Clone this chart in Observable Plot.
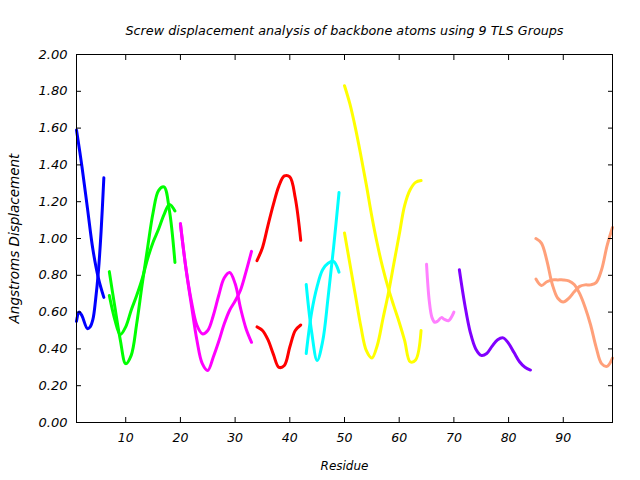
<!DOCTYPE html>
<html>
<head>
<meta charset="utf-8">
<script src="https://cdn.jsdelivr.net/npm/d3@7"></script>
<script src="https://cdn.jsdelivr.net/npm/@observablehq/plot@0.6"></script>
<style>
  html, body { margin: 0; padding: 0; background: #ffffff; }
</style>
</head>
<body>
<script>
// ---- Data: [residue, displacement (Å)] ----
const blueA    = [[1,1.59],[2,1.39],[3,1.165],[4,0.94],[5,0.785],[6,0.68]];
const blueB    = [[1,0.55],[1.5,0.60],[2,0.58],[3,0.51],[3.5,0.52],[4,0.56],[4.5,0.67],[5,0.82],[5.5,1.04],[6,1.33]];
const greenA   = [[7,0.82],[8,0.63],[9,0.45],[10,0.32],[11,0.365],[12,0.536],[13,0.75],[14,0.95],[15,1.14],[16,1.26],[17,1.28],[18,1.15],[19,0.87]];
const greenB   = [[7,0.69],[8,0.56],[9,0.478],[10,0.52],[11,0.61],[12,0.69],[13,0.78],[14,0.89],[15,0.98],[16,1.05],[17,1.13],[18,1.185],[19,1.15]];
const magentaA = [[20,1.08],[21,0.84],[22,0.64],[23,0.45],[24,0.32],[25,0.283],[26,0.355],[27,0.44],[28,0.535],[29,0.61],[30,0.66],[31,0.72],[32,0.82],[33,0.93]];
const magentaB = [[20,1.08],[21,0.84],[22,0.66],[23,0.53],[24,0.482],[25,0.50],[26,0.58],[27,0.69],[28,0.785],[29,0.815],[30,0.755],[31,0.62],[32,0.51],[33,0.436]];
const redA     = [[34,0.88],[35,0.95],[36,1.07],[37,1.185],[38,1.285],[39,1.34],[40,1.335],[41,1.22],[42,0.99]];
const redB     = [[34,0.52],[35,0.50],[36,0.45],[37,0.37],[38,0.30],[39,0.31],[40,0.41],[41,0.50],[42,0.53]];
const cyanA    = [[43,0.375],[44,0.60],[45,0.74],[46,0.83],[47,0.865],[48,0.875],[49,0.817]];
const cyanB    = [[43,0.75],[44,0.49],[45,0.337],[46,0.44],[47,0.68],[48,0.95],[49,1.25]];
const yellowA  = [[50,1.83],[51,1.73],[52,1.60],[53,1.45],[54,1.29],[55,1.12],[56,0.97],[57,0.84],[58,0.73],[59,0.635],[60,0.545],[61,0.445],[62,0.33],[63,0.34],[64,0.50]];
const yellowB  = [[50,1.03],[51,0.86],[52,0.69],[53,0.52],[54,0.39],[55,0.35],[56,0.42],[57,0.56],[58,0.70],[59,0.86],[60,1.02],[61,1.18],[62,1.265],[63,1.305],[64,1.315]];
const pinkA    = [[65,0.86],[65.5,0.66],[66,0.57],[66.5,0.545],[67,0.55],[67.7,0.57],[68.3,0.56],[69,0.553],[69.5,0.57],[70,0.60]];
const purpleA  = [[71,0.83],[72,0.64],[73,0.49],[74,0.40],[75,0.365],[76,0.375],[77,0.415],[78,0.45],[79,0.46],[80,0.43],[81,0.38],[82,0.33],[83,0.30],[84,0.285]];
const salmonA  = [[85,1.00],[86,0.975],[87,0.88],[88,0.75],[89,0.675],[90,0.655],[91,0.675],[92,0.71],[93,0.74],[94,0.748],[95,0.748],[96,0.76],[97,0.83],[98,0.96],[99,1.06]];
const salmonB  = [[85,0.78],[86,0.745],[87,0.765],[88,0.775],[89,0.775],[90,0.775],[91,0.77],[92,0.75],[93,0.70],[94,0.625],[95,0.53],[96,0.41],[97,0.32],[98,0.305],[99,0.35]];

const xTicks = [10, 20, 30, 40, 50, 60, 70, 80, 90];
const yTicks = [0, 0.2, 0.4, 0.6, 0.8, 1.0, 1.2, 1.4, 1.6, 1.8, 2.0];
const titleText = "Screw displacement analysis of backbone atoms using 9 TLS Groups";
const xLabel = "Residue";
const yLabel = "Angstroms Displacement";

// ---- Styles ----
const curves = [blueA, blueB, greenA, greenB, magentaA, magentaB, redA, redB, cyanA, cyanB, yellowA, yellowB, pinkA, purpleA, salmonA, salmonB];
const curveColors = ["#0000ff","#0000ff","#00ff00","#00ff00","#ff00ff","#ff00ff","#ff0000","#ff0000","#00ffff","#00ffff","#ffff00","#ffff00","#ff80ff","#8000ff","#ffa07a","#ffa07a"];

const lineMarks = curves.map((c, i) => Plot.line(c, {
  x: d => d[0], y: d => d[1],
  stroke: curveColors[i], strokeWidth: 3, curve: "catmull-rom"
}));

const chart = Plot.plot({
  width: 640,
  height: 480,
  marginLeft: 76,
  marginRight: 28,
  marginTop: 54,
  marginBottom: 58,
  style: { fontFamily: "DejaVu Sans", fontSize: "13px", fontStyle: "italic", background: "#ffffff", color: "#000000" },
  x: { domain: [1, 99] },
  y: { domain: [0, 2] },
  marks: [
    ...lineMarks,
    Plot.frame({ stroke: "#000000", strokeWidth: 1 }),
    Plot.axisX(xTicks, { anchor: "bottom", tickSize: -5, tickPadding: 16, label: null, fontSize: 12.5 }),
    Plot.axisX(xTicks, { anchor: "top", tickSize: -5, tickFormat: () => "", label: null }),
    Plot.axisY(yTicks, { anchor: "left", tickSize: -5, tickPadding: 14, tickFormat: d3.format(".2f"), label: null, fontSize: 13 }),
    Plot.axisY(yTicks, { anchor: "right", tickSize: -5, tickFormat: () => "", label: null }),
    Plot.text([titleText], { text: d => d, frameAnchor: "top", dy: -29, fontSize: 12.75, textAnchor: "middle" }),
    Plot.text([xLabel], { text: d => d, frameAnchor: "bottom", dy: 47, fontSize: 12, textAnchor: "middle" }),
    Plot.text([yLabel], { text: d => d, frameAnchor: "left", rotate: -90, dx: -62, fontSize: 13.5, textAnchor: "middle" })
  ]
});
document.body.appendChild(chart);
</script>
</body>
</html>
